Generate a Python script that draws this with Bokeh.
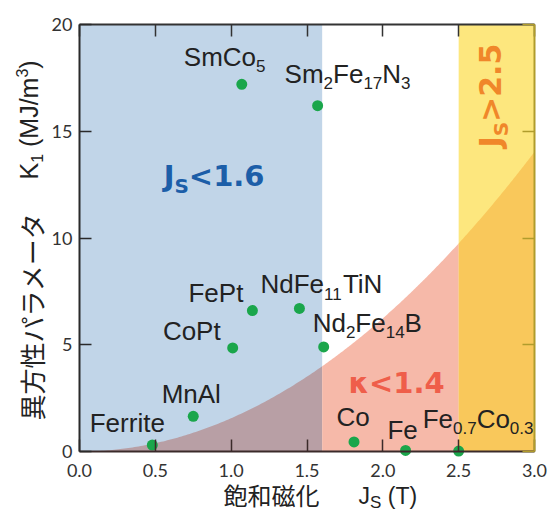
import re
import numpy as np
from bokeh.plotting import figure
from bokeh.models import Label, LinearAxis, FixedTicker, ColumnDataSource, CustomJSTickFormatter, Range1d
from bokeh.embed import file_html
from bokeh.resources import INLINE

# ---------------- data ----------------
materials = ["SmCo_5", "Sm_2Fe_17N_3", "FePt", "CoPt", "MnAl", "Ferrite",
             "NdFe_11TiN", "Nd_2Fe_14B", "Co", "Fe", "Fe_0.7Co_0.3"]
js = [1.07, 1.57, 1.14, 1.01, 0.75, 0.48, 1.45, 1.61, 1.81, 2.15, 2.50]
k1 = [17.2, 16.2, 6.6, 4.85, 1.65, 0.3, 6.7, 4.9, 0.45, 0.05, 0.02]

x_ticks = [0.0, 0.5, 1.0, 1.5, 2.0, 2.5, 3.0]
x_tick_labels = ["0.0", "0.5", "1.0", "1.5", "2.0", "2.5", "3.0"]
y_ticks = [0, 5, 10, 15, 20]
y_tick_labels = ["0", "5", "10", "15", "20"]
X_MIN, X_MAX = 0.0, 3.0
Y_MIN, Y_MAX = 0.0, 20.0

JS_LOW = 1.6      # Js < 1.6 region
JS_HIGH = 2.5     # Js > 2.5 region
KAPPA = 1.4       # kappa < 1.4 region
MU0 = 4e-7 * np.pi

# ---------------- styles / layout ----------------
W, H = 549, 519
AX_L, AX_R, AX_T, AX_B = 79, 534, 24, 451   # pixel box of the axes

C_BLUE = "#c1d5e8"
C_MAUVE = "#b89fa5"
C_RED = "#f6b9a9"
C_YELLOW = "#fde77e"
C_ORANGE = "#f9c85b"
C_GREEN = "#1aa64b"
C_TEXT = "#222222"

# label placement: (align, dx px, baseline px above the point)
label_layout = {
    "SmCo_5": ("left", -58, 18),
    "Sm_2Fe_17N_3": ("left", -33, 23),
    "FePt": ("right", -9, 9),
    "CoPt": ("right", -12, 8),
    "MnAl": ("center", -2, 13),
    "Ferrite": ("center", -25, 13),
    "NdFe_11TiN": ("left", -39, 15),
    "Nd_2Fe_14B": ("left", -11, 15),
    "Co": ("center", -1, 16),
    "Fe": ("center", -3, 11),
    "Fe_0.7Co_0.3": ("left", -36, 23),
}

W_ARIAL = {' ': .278, '(': .333, ')': .333, '/': .278, '.': .278, '<': .584, '>': .584,
           'A': .667, 'B': .667, 'C': .722, 'F': .611, 'J': .5, 'K': .667, 'M': .833,
           'N': .722, 'P': .667, 'S': .667, 'T': .611, 'd': .556, 'e': .556, 'i': .222,
           'l': .222, 'm': .833, 'n': .556, 'o': .556, 'r': .333, 't': .278}
W_DJV_BOLD = {'J': .372, 'S': .72, '<': .838, '>': .838, '.': .38, 'κ': .66}
MID = 0.3465   # middle of the font box above the baseline (em)


def rich(p, x, y, segs, dx, dy, size, sub_size, sub_shift, sup_shift, font, color,
         align="left", angle=0.0, style="normal", widths=W_ARIAL, default_w=.556, mid=MID):
    def seg_w(t, k):
        fs = size if k == 'n' else sub_size
        return sum(widths.get(c, default_w) for c in t) * fs
    total = sum(seg_w(t, k) for t, k in segs)
    pos = {"left": 0, "center": -total / 2, "right": -total}[align]
    for t, k in segs:
        if not t:
            continue
        lead = len(t) - len(t.lstrip(' '))
        if lead:
            pos += seg_w(' ' * lead, k)
            t = t.lstrip(' ')
        fs = size if k == 'n' else sub_size
        up = {'n': 0, 'sub': -sub_shift, 'sup': sup_shift}[k] + mid * fs
        if angle == 0:
            xo, yo = dx + pos, dy + up
        else:
            xo, yo = dx - up, dy + pos
        p.add_layout(Label(x=x, y=y, x_offset=xo, y_offset=yo, text=t, angle=angle,
                           text_font=font, text_font_size=f"{fs}px", text_font_style=style,
                           text_color=color, text_baseline="middle", text_align="left"))
        pos += seg_w(t, k)


def parse(name):
    parts = re.split(r'_([\d.]+)', name)
    return [(t, 'n' if i % 2 == 0 else 'sub') for i, t in enumerate(parts)]


# ---------------- figure ----------------
sx = (AX_R - AX_L) / (X_MAX - X_MIN)
sy = (AX_B - AX_T) / (Y_MAX - Y_MIN)
x_range = Range1d(X_MIN - AX_L / sx, X_MAX + (W - AX_R) / sx)
y_range = Range1d(Y_MIN - (H - AX_B) / sy, Y_MAX + AX_T / sy)

p = figure(width=W, height=H, x_range=x_range, y_range=y_range,
           x_axis_location=None, y_axis_location=None,
           output_backend="svg", toolbar_location=None, min_border=0)
p.grid.visible = False
p.outline_line_color = None
p.background_fill_color = "white"
p.border_fill_color = "white"

# regions
p.quad(left=X_MIN, right=JS_LOW, bottom=Y_MIN, top=Y_MAX, color=C_BLUE, line_color=None)
p.quad(left=JS_HIGH, right=X_MAX, bottom=Y_MIN, top=Y_MAX, color=C_YELLOW, line_color=None)
ck = KAPPA ** 2 / MU0 / 1e6   # K1 = kappa^2 Js^2 / mu0  (MJ/m^3)
for a, b, col in [(X_MIN, JS_LOW, C_MAUVE), (JS_LOW, JS_HIGH, C_RED), (JS_HIGH, X_MAX, C_ORANGE)]:
    xs = np.linspace(a, b, 120)
    p.varea(x=xs, y1=np.zeros_like(xs), y2=ck * xs ** 2, color=col)

# points
src = ColumnDataSource(dict(js=js, k1=k1))
p.scatter(x="js", y="k1", source=src, size=11, color=C_GREEN, line_color=None)

# ---------------- axes ----------------
blank = CustomJSTickFormatter(code="return ''")
common = dict(major_tick_in=12, major_tick_out=0, minor_tick_line_color=None,
              axis_line_width=2, major_tick_line_width=1.5,
              major_label_text_font="Lato", major_label_text_font_size="18px",
              major_label_text_color="#333333")

bottom = LinearAxis(fixed_location=Y_MIN, bounds=(X_MIN, X_MAX), ticker=FixedTicker(ticks=x_ticks),
                    major_label_overrides={t: l for t, l in zip(x_ticks, x_tick_labels)},
                    major_label_standoff=12, axis_line_color="#3b2a2a",
                    major_tick_line_color="#3b2a2a", **common)
p.add_layout(bottom, "below")
left = LinearAxis(fixed_location=X_MIN, bounds=(Y_MIN, Y_MAX), ticker=FixedTicker(ticks=y_ticks),
                  major_label_overrides={t: l for t, l in zip(y_ticks, y_tick_labels)},
                  major_label_standoff=7, axis_line_color="#2a2a2a",
                  major_tick_line_color="#2a2a2a", **common)
p.add_layout(left, "left")
top = LinearAxis(fixed_location=Y_MAX, bounds=(X_MIN, X_MAX), ticker=FixedTicker(ticks=x_ticks),
                 formatter=blank, major_label_standoff=0, axis_line_color="#333333",
                 major_tick_line_color="#333333", **common)
p.add_layout(top, "above")
right = LinearAxis(fixed_location=X_MAX, bounds=(Y_MIN, Y_MAX), ticker=FixedTicker(ticks=y_ticks),
                   formatter=blank, major_label_standoff=0, axis_line_color="#b09c2c",
                   major_tick_line_color="#b09c2c", **common)
p.add_layout(right, "right")

# ---------------- texts ----------------
for name, xv, yv in zip(materials, js, k1):
    align, dx, dy = label_layout[name]
    rich(p, xv, yv, parse(name), dx, dy, 26, 17, 6, 8, "Liberation Sans", C_TEXT, align=align)

rich(p, 0.555, 12.45, [("J", 'n'), ("S", 'sub'), ("<1.6", 'n')], 0, 0, 29, 20, 7, 8,
     "DejaVu Sans", "#1c5ea8", style="bold", widths=W_DJV_BOLD, default_w=.696)
rich(p, 1.773, 2.72, [("κ<1.4", 'n')], 0, 0, 29, 20, 7, 8,
     "DejaVu Sans", "#ef5e4a", style="bold", widths=W_DJV_BOLD, default_w=.696)
rich(p, 2.78, 14.24, [("J", 'n'), ("S", 'sub'), (">2.5", 'n')], 0, 0, 30, 20, 7, 8,
     "DejaVu Sans", "#f0872a", style="bold", widths=W_DJV_BOLD, default_w=.696, angle=np.pi / 2)

# axis titles (anchored at the axes' corner, offsets in pixels)
p.add_layout(Label(x=X_MIN, y=Y_MIN, x_offset=-48, y_offset=31, angle=np.pi / 2, text="異方性パラメータ",
                   text_font="Noto Sans CJK JP", text_font_size="26px", text_color=C_TEXT,
                   text_baseline="middle", text_align="left"))
rich(p, X_MIN, Y_MIN, [("K", 'n'), ("1", 'sub'), (" (MJ/m", 'n'), ("3", 'sup'), (")", 'n')],
     -42, 272, 25, 16, 5, 10, "Liberation Sans", C_TEXT, angle=np.pi / 2)

rich(p, X_MIN, Y_MIN, [("飽和磁化", 'n')], 144, -53, 24, 16, 0, 0,
     "Noto Sans CJK JP", C_TEXT, widths={}, default_w=1.0, mid=0.436)
rich(p, X_MIN, Y_MIN, [("J", 'n'), ("S", 'sub'), (" (T)", 'n')],
     279, -52, 23, 17, 5, 8, "Liberation Sans", C_TEXT)

open("out.html", "w").write(file_html(p, INLINE))
